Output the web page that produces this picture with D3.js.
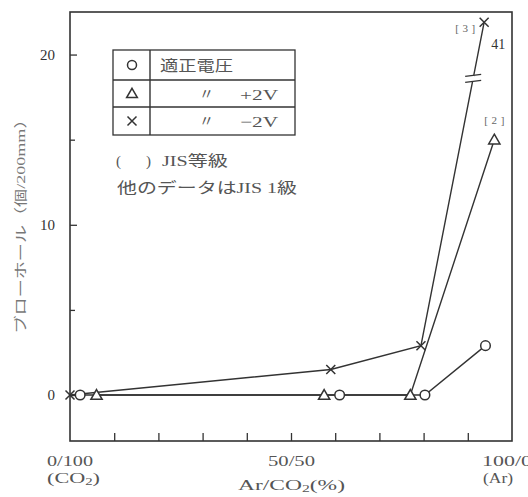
<!DOCTYPE html>
<html>
<head>
<meta http-equiv="Content-Type" content="text/html; charset=UTF-8">
<style>
body { margin: 0; background: #fff; }
svg { font-family: "Liberation Serif", "Noto Sans CJK JP", serif; }
.frame { fill: none; stroke: #333; stroke-width: 1.6px; }
.line { fill: none; stroke: #333; stroke-width: 1.4px; }
.mark { fill: #fff; stroke: #333; stroke-width: 1.5px; }
.axis path { display: none; }
.axis line { stroke: #333; stroke-width: 1.3px; }
.axis text { fill: #333; font-size: 15px; font-family: "Liberation Serif", serif; }
.lbl { fill: #555; font-size: 15px; }
.small { fill: #666; font-size: 11px; }
</style>
</head>
<body>
<svg width="528" height="497"></svg>
<script src="https://cdn.jsdelivr.net/npm/d3@7"></script>
<script>

// Ar ratio (%) and blowholes per 200mm
var circleX = [2.3, 61, 80.3, 94];
var circleY = [0, 0, 0, 2.9];
var triX = [6, 57.5, 77, 96];
var triY = [0, 0, 0, 15];
var crossX = [0, 59, 79.4, 93.7];
var crossY = [0, 1.5, 2.9, 41];

var legendText = ["適正電圧", "+2V", "−2V"];
var xLabels = ["0/100", "50/50", "100/0"];

var yMax = 21.9;      // values above this are drawn at the top (broken axis)
var breakAt = 18.6;

var svg = d3.select("svg");

var x = d3.scaleLinear().domain([0, 100]).range([70, 512]);
var y = d3.scaleLinear().domain([-2.7, 22.5]).range([441, 12]);

function yc(v) { return y(Math.min(v, yMax)); }

function txt(t, px, py, w, anchor) {
  var e = svg.append("text").attr("class", "lbl").attr("x", px).attr("y", py)
      .attr("text-anchor", anchor || "start").text(t);
  if (w) e.attr("textLength", w).attr("lengthAdjust", "spacingAndGlyphs");
  return e;
}
function chem(px, py, w, pre, post) {
  var e = svg.append("text").attr("class", "lbl").attr("x", px).attr("y", py)
      .attr("textLength", w).attr("lengthAdjust", "spacingAndGlyphs");
  e.append("tspan").text(pre + "CO");
  e.append("tspan").attr("dy", 2).style("font-size", "10px").text("2");
  e.append("tspan").attr("dy", -2).text(post);
  return e;
}

// frame
svg.append("rect").attr("class", "frame")
    .attr("x", x(0)).attr("y", y(22.5))
    .attr("width", x(100) - x(0)).attr("height", y(-2.7) - y(22.5));

// y axis
svg.append("g").attr("class", "axis")
    .attr("transform", "translate(" + x(0) + ",0)")
    .call(d3.axisLeft(y).tickValues([0, 10, 20]).tickSize(-7).tickPadding(15));
svg.append("g").attr("class", "axis")
    .attr("transform", "translate(" + x(0) + ",0)")
    .call(d3.axisLeft(y).tickValues([5, 15]).tickSize(-5).tickFormat(""));

// x axis ticks
svg.append("g").attr("class", "axis")
    .attr("transform", "translate(0," + y(-2.7) + ")")
    .call(d3.axisBottom(x).tickValues(d3.range(10, 100, 10)).tickSize(-8).tickFormat(""));

txt(xLabels[0], 47, 466, 46);
txt(xLabels[1], 268, 466, 47);
txt(xLabels[2], 482, 466, 50);
chem(47, 483, 53, "(", ")");
chem(238, 490, 107, "Ar/", "(%)");
txt("(Ar)", 483, 483, 30);

// y title
svg.append("text").attr("class", "lbl")
    .attr("transform", "translate(25,222) rotate(-90)")
    .attr("text-anchor", "middle")
    .attr("textLength", 223).attr("lengthAdjust", "spacingAndGlyphs")
    .style("font-size", "13px")
    .style("fill", "#777")
    .text("ブローホール（個/200mm）");

// lines
var line = d3.line().x(function(d) { return x(d[0]); }).y(function(d) { return yc(d[1]); });
var circleData = d3.zip(circleX, circleY);
var triData = d3.zip(triX, triY);
var crossData = d3.zip(crossX, crossY);

[circleData, triData, crossData].forEach(function(d) {
  svg.append("path").datum(d).attr("class", "line").attr("d", line);
});

// break marks on the -2V line
var p0 = crossData[2], p1 = crossData[3];
var x0 = x(p0[0]), y0 = yc(p0[1]), x1 = x(p1[0]), y1 = yc(p1[1]);
var by = y(breakAt);
var bx = x0 + (x1 - x0) * (by - y0) / (y1 - y0);
svg.append("line").attr("x1", bx - 1).attr("x2", bx + 1).attr("y1", by - 3).attr("y2", by + 3)
    .style("stroke", "#fff").style("stroke-width", 4);
[-3, 3].forEach(function(o) {
  svg.append("line").attr("class", "line")
      .attr("x1", bx - 8).attr("x2", bx + 8)
      .attr("y1", by + o + 1).attr("y2", by + o - 1);
});

// markers
var sym = d3.symbol();
svg.selectAll(".c").data(circleData).enter().append("circle").attr("class", "mark")
    .attr("cx", function(d) { return x(d[0]); })
    .attr("cy", function(d) { return yc(d[1]); })
    .attr("r", 4.8);
svg.selectAll(".t").data(triData).enter().append("path").attr("class", "mark")
    .attr("transform", function(d) { return "translate(" + x(d[0]) + "," + (yc(d[1]) + 1) + ")"; })
    .attr("d", sym.type(d3.symbolTriangle).size(55)());
svg.selectAll(".x").data(crossData).enter().append("path").attr("class", "mark")
    .attr("transform", function(d) { return "translate(" + x(d[0]) + "," + yc(d[1]) + ")"; })
    .attr("d", "M-4.5,-4.5L4.5,4.5M-4.5,4.5L4.5,-4.5");

// value / grade labels
svg.append("text").attr("class", "lbl").attr("x", x(p1[0]) + 7).attr("y", yc(p1[1]) + 27)
    .style("font-size", "14px").style("fill", "#333").text(crossY[3]);
svg.append("text").attr("class", "small").attr("x", x(p1[0]) - 9).attr("y", yc(p1[1]) + 10)
    .attr("text-anchor", "end").attr("textLength", 20).text("[3]");
svg.append("text").attr("class", "small").attr("x", x(triX[3]) - 10).attr("y", yc(triY[3]) - 16)
    .attr("textLength", 20).text("[2]");

// legend table
var lg = svg.append("g").attr("transform", "translate(113,50)");
var rowH = [0, 30, 57, 85];
lg.append("rect").attr("class", "frame").attr("width", 182).attr("height", 85).style("stroke-width", 1.3);
lg.append("line").attr("class", "line").attr("x1", 37).attr("x2", 37).attr("y1", 0).attr("y2", 85);
[1, 2].forEach(function(i) {
  lg.append("line").attr("class", "line").attr("x1", 0).attr("x2", 182).attr("y1", rowH[i]).attr("y2", rowH[i]);
});
var lcy = [15, 43.5, 71];
lg.append("circle").attr("class", "mark").attr("cx", 19).attr("cy", lcy[0]).attr("r", 4.5);
lg.append("path").attr("class", "mark").attr("transform", "translate(19," + (lcy[1] + 1) + ")")
    .attr("d", sym.type(d3.symbolTriangle).size(50)());
lg.append("path").attr("class", "mark").attr("transform", "translate(19," + lcy[2] + ")")
    .attr("d", "M-4.5,-4.5L4.5,4.5M-4.5,4.5L4.5,-4.5");
function ltxt(t, px, py, w) {
  var e = lg.append("text").attr("class", "lbl").attr("x", px).attr("y", py).text(t);
  if (w) e.attr("textLength", w).attr("lengthAdjust", "spacingAndGlyphs");
}
ltxt(legendText[0], 47, lcy[0] + 6, 73);
ltxt("〃", 86, lcy[1] + 5);
ltxt(legendText[1], 127, lcy[1] + 6, 38);
ltxt("〃", 86, lcy[2] + 5);
ltxt(legendText[2], 127, lcy[2] + 6, 38);

txt("(", 116, 166);
txt(")", 146, 166);
txt("JIS等級", 162, 166, 66);
txt("他のデータはJIS 1級", 117, 193, 180);

</script>
</body></html>
